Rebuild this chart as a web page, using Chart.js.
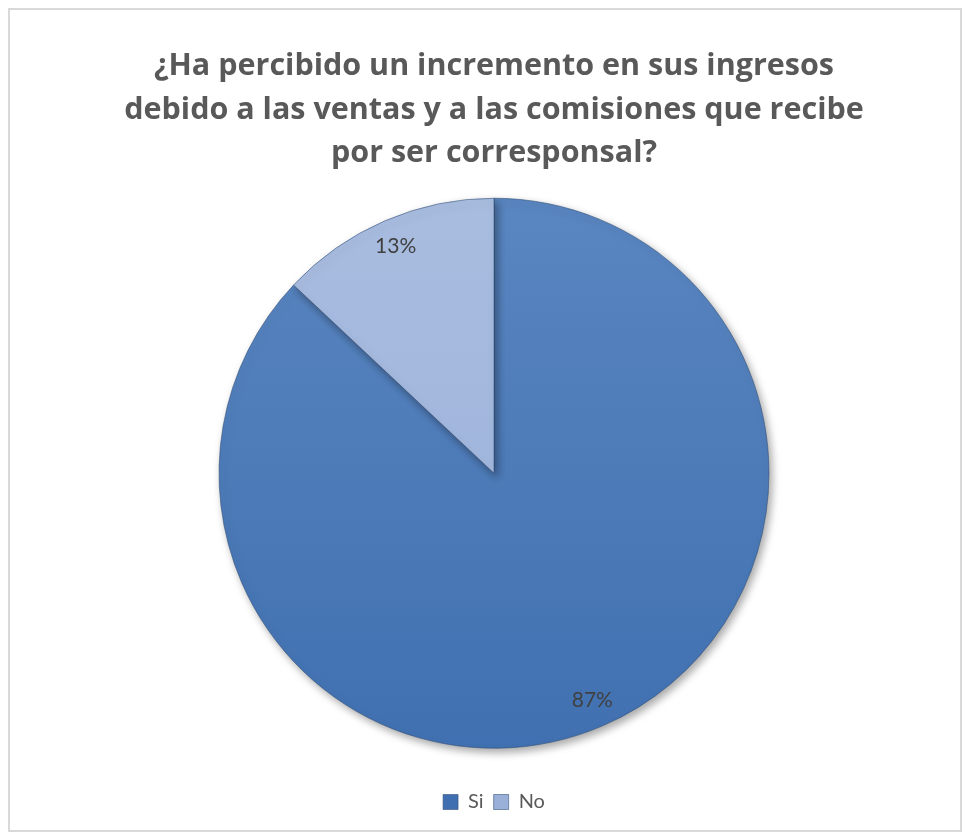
<!DOCTYPE html>
<html lang="es">
<head>
<meta charset="utf-8">
<title>Ingresos por corresponsalía</title>
<script src="https://cdn.jsdelivr.net/npm/chart.js@4.4.1/dist/chart.umd.min.js"></script>
<style>
  html, body { margin: 0; padding: 0; background: #fff; }
  .frame {
    position: absolute; left: 8px; top: 8px;
    width: 950px; height: 820px;
    border: 2px solid #d9d9d9;
  }
  .wrap { position: absolute; left: 0; top: 0; width: 967px; height: 837px; }
</style>
</head>
<body>
<div class="frame"></div>
<div class="wrap"><canvas id="chart-ingresos"></canvas></div>

<script>
// ── Datos ──────────────────────────────────────────────────
const CATEGORIAS = ['Si', 'No'];
const PORCENTAJES = [87, 13];
const TITULO = [
  '¿Ha percibido un incremento en sus ingresos',
  'debido a las ventas y a las comisiones que recibe',
  'por ser corresponsal?',
];

const FONT = "Lato, 'Open Sans', 'Liberation Sans', sans-serif";
const FONT_TITULO = "'Open Sans', Lato, sans-serif";
const GRIS = '#595959';

// degradado vertical por porción
function relleno(ctx) {
  const area = ctx.chart.chartArea;
  if (!area) return ctx.dataIndex === 0 ? '#4a7ebb' : '#a5b9de';
  const g = ctx.chart.ctx.createLinearGradient(0, area.top, 0, area.bottom);
  if (ctx.dataIndex === 0) {
    g.addColorStop(0, '#5b87c1');
    g.addColorStop(1, '#3f6fb0');
  } else {
    g.addColorStop(0, '#a9bde0');
    g.addColorStop(1, '#9ab0d9');
  }
  return g;
}

// sombra suave bajo el pastel
const sombra = {
  id: 'sombra',
  beforeDatasetsDraw(chart) {
    const c = chart.ctx;
    c.save();
    c.shadowColor = 'rgba(0,0,0,0.35)';
    c.shadowBlur = 9;
    c.shadowOffsetX = 3;
    c.shadowOffsetY = 4;
  },
  afterDatasetsDraw(chart) {
    chart.ctx.restore();
  },
};

// etiquetas de porcentaje dentro de cada porción
const etiquetas = {
  id: 'etiquetas',
  afterDatasetsDraw(chart) {
    const c = chart.ctx;
    const meta = chart.getDatasetMeta(0);
    c.save();
    c.font = `21px ${FONT}`;
    c.fillStyle = '#404040';
    c.textAlign = 'center';
    c.textBaseline = 'middle';
    meta.data.forEach((arc, i) => {
      const { x, y, startAngle, endAngle, outerRadius } = arc.getProps(['x', 'y', 'startAngle', 'endAngle', 'outerRadius'], true);
      const mid = (startAngle + endAngle) / 2;
      const r = outerRadius * 0.9;
      c.fillText(`${PORCENTAJES[i]}%`, x + Math.cos(mid) * r, y + Math.sin(mid) * r);
    });
    c.restore();
  },
};

new Chart(document.getElementById('chart-ingresos'), {
  type: 'pie',
  data: {
    labels: CATEGORIAS,
    datasets: [{
      data: PORCENTAJES,
      backgroundColor: relleno,
      borderColor: 'rgba(45,75,115,0.55)',
      borderWidth: 1,
      radius: 275,
    }],
  },
  options: {
    responsive: true,
    maintainAspectRatio: false,
    animation: false,
    layout: { padding: { left: 21, right: 0, top: 0, bottom: 15 } },
    plugins: {
      title: {
        display: true,
        text: TITULO,
        color: GRIS,
        font: { family: FONT_TITULO, size: 30.5, weight: 'bold', lineHeight: 1.426 },
        padding: { top: 45, bottom: -11 },
      },
      legend: {
        position: 'bottom',
        labels: {
          color: GRIS,
          font: { family: FONT, size: 20 },
          boxWidth: 15,
          boxHeight: 15,
          padding: 10,
        },
      },
      tooltip: { enabled: false },
    },
  },
  plugins: [sombra, etiquetas],
});
</script>
</body>
</html>
